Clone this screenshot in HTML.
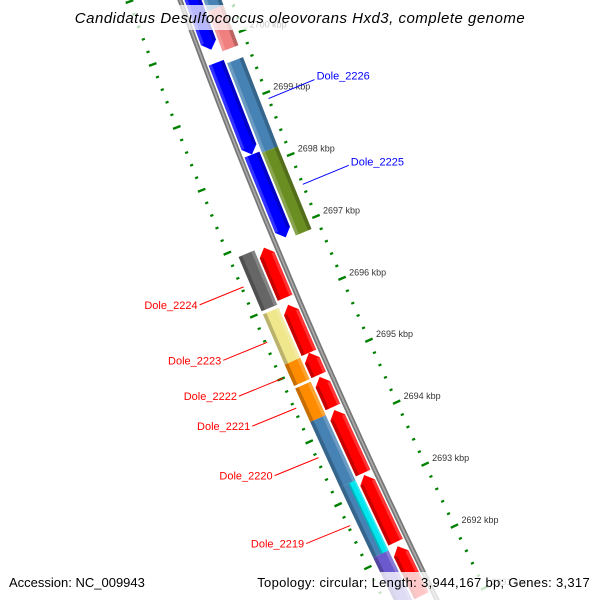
<!DOCTYPE html>
<html><head><meta charset="utf-8"><style>
html,body{margin:0;padding:0;background:#fff;width:600px;height:600px;overflow:hidden}
svg{display:block;font-family:"Liberation Sans","DejaVu Sans",sans-serif}
</style></head><body>
<svg id="map" width="600" height="600" viewBox="0 0 600 600" xmlns="http://www.w3.org/2000/svg" overflow="hidden">
<g id="rulers"></g>
<g id="backbone"></g>
<g id="genes"></g>
<g id="labels"></g>
<rect x="80" y="5" width="440" height="25" fill="#fff" fill-opacity="0.72"/>
<text x="300" y="23" text-anchor="middle" font-size="15" letter-spacing="0.5" font-style="italic" fill="#000">Candidatus Desulfococcus oleovorans Hxd3, complete genome</text>
<rect x="0" y="572" width="600" height="28" fill="#fff" fill-opacity="0.78"/>
<text x="9" y="587" font-size="13" fill="#000">Accession: NC_009943</text>
<text x="590" y="587" text-anchor="end" font-size="13" letter-spacing="0.3" fill="#000">Topology: circular; Length: 3,944,167 bp; Genes: 3,317</text>
</svg>
<script>
// ---- data (positions in kbp) ----
const geneStarts = [2701.4, 2699.689, 2698.215, 2701.4, 2700.458, 2699.625, 2698.183, 2696.869, 2695.955, 2695.186, 2694.801, 2694.272, 2693.231, 2692.093, 2696.885, 2695.971, 2695.170, 2694.790, 2694.256, 2693.215, 2693.215, 2692.093];
const geneEnds   = [2699.897, 2698.215, 2696.885, 2700.458, 2699.817, 2698.183, 2696.853, 2696.067, 2695.186, 2694.833, 2694.321, 2693.263, 2692.157, 2691.3, 2696.019, 2695.170, 2694.830, 2694.256, 2693.215, 2692.093, 2692.093, 2691.3];
const geneSlots  = [1, 1, 1, 2, 2, 2, 2, -1, -1, -1, -1, -1, -1, -1, -2, -2, -2, -2, -2, -2, -3, -2];
const geneArrows = [-1, -1, -1, 0, 0, 0, 0, 1, 1, 1, 1, 1, 1, 1, 0, 0, 0, 0, 0, 0, 0, 0];
const geneColors = ["#0000ff","#0000ff","#0000ff","#4682b4","#f08080","#4682b4","#6b8e23","#ff0000","#ff0000","#ff0000","#ff0000","#ff0000","#ff0000","#ff0000","#666666","#f0e68c","#ff8c00","#ff8c00","#4682b4","#4682b4","#00e5ee","#6a5acd"];
const tickStart = 2691.0;
const tickEnd = 2701.6;
const labelNames = ["Dole_2226","Dole_2225","Dole_2224","Dole_2223","Dole_2222","Dole_2221","Dole_2220","Dole_2219"];
const labelGene  = [5, 6, 14, 15, 16, 17, 18, 19];

// ---- geometry ----
function X(y){return 180+0.366*y+1.038e-4*y*y;}
function D(y){return 0.366+2.076e-4*y;}
function posY(p){return 110+(2699-p)*62.4;}
function pt(p,off){const y=posY(p),d=D(y),n=Math.sqrt(1+d*d);return [X(y)+off/n, y-off*d/n];}
const slotOff={1:[4,20],2:[22,39],'-1':[-4,-20],'-2':[-22,-39],'-3':[-22,-30]};
const NS='http://www.w3.org/2000/svg';
function mk(tag,attrs,parent){const e=document.createElementNS(NS,tag);for(const k in attrs)e.setAttribute(k,attrs[k]);parent.appendChild(e);return e;}
const P=a=>a.map(q=>q[0].toFixed(1)+','+q[1].toFixed(1)).join(' ');

// rulers
const rg=document.getElementById('rulers');
[48,-48].forEach(function(off){
  for(let i=Math.round(tickStart*5);i<=Math.round(tickEnd*5);i++){
    const p=i/5, major=(i%5===0);
    const len=major?4:1.6;
    const a=pt(p,off-len),b=pt(p,off+len);
    if(a[1]>600||b[1]>600||a[1]<0) continue;
    const t=mk('line',{x1:a[0],y1:a[1],x2:b[0],y2:b[1],stroke:'#008000','stroke-width':major?2.4:2.2},rg);
    
    
    if(major && off>0 && p<2700.5){
      const c=pt(p,off);
      const tx=mk('text',{x:c[0]+7,y:c[1]-3,'font-size':'9',fill:'#333'},rg);
      tx.textContent=Math.round(p)+' kbp';
      
      
    }
  }
});

// backbone
const bg=document.getElementById('backbone');
let bpts=[];for(let y=-20;y<=610;y+=10)bpts.push([X(y),y]);
const bl=mk('polyline',{points:P(bpts),fill:'none',stroke:'#777','stroke-width':5},bg);


const bl2=mk('polyline',{points:P(bpts),fill:'none',stroke:'#aaa','stroke-width':1.6},bg);



// genes
const gg=document.getElementById('genes');
for(let i=0;i<geneStarts.length;i++){
  const o=slotOff[geneSlots[i]], o1=o[0], o2=o[1], mid=(o1+o2)/2;
  const hi=Math.max(geneStarts[i],geneEnds[i]), lo=Math.min(geneStarts[i],geneEnds[i]);
  const h=0.12; let pts;
  if(geneArrows[i]===-1){
    pts=[pt(hi,o1),pt(hi,o2),pt(lo+h,o2),pt(lo,mid),pt(lo+h,o1)];
  } else if(geneArrows[i]===1){
    pts=[pt(lo,o1),pt(lo,o2),pt(hi-h,o2),pt(hi,mid),pt(hi-h,o1)];
  } else {
    pts=[pt(hi,o1),pt(hi,o2),pt(lo,o2),pt(lo,o1)];
  }
  const g=mk('polygon',{points:P(pts),fill:geneColors[i]},gg);
  
  
  const a1=hi-(geneArrows[i]===1?h:0), a2=lo+(geneArrows[i]===-1?h:0);
  const s1=o2-(o2-o1)*0.22;
  const sh=mk('polygon',{points:P([pt(a1,s1),pt(a1,o2),pt(a2,o2),pt(a2,s1)]),fill:'#000','fill-opacity':0.22},gg);
  
  
  const hl=mk('polygon',{points:P([pt(a1,o1),pt(a1,o1+(o2-o1)*0.2),pt(a2,o1+(o2-o1)*0.2),pt(a2,o1)]),fill:'#fff','fill-opacity':0.2},gg);
  
  
}

// labels
const lg=document.getElementById('labels');
for(let k=0;k<labelNames.length;k++){
  const i=labelGene[k], m=(geneStarts[i]+geneEnds[i])/2, sl=geneSlots[i];
  const right=sl>0, col=right?'#0000ff':'#ff0000';
  const a=pt(m, right?48:-46);
  const b=[a[0]+(right?46:-44), a[1]-(right?19:-18)];
  const ln=mk('line',{x1:a[0],y1:a[1],x2:b[0],y2:b[1],stroke:col,'stroke-width':1},lg);
  
  
  const t=mk('text',{x:b[0]+(right?2:-2),y:b[1]+(right?0:4),'font-size':'11',fill:col,'text-anchor':right?'start':'end'},lg);
  t.textContent=labelNames[k];
  
  
}
</script>
</body></html>
